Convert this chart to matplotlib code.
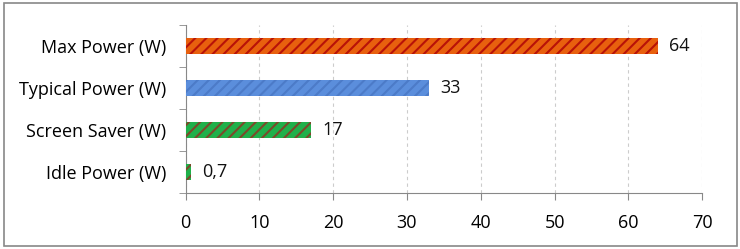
import matplotlib
matplotlib.use("Agg")
import matplotlib.pyplot as plt
from matplotlib.patches import Rectangle

categories = ["Idle Power (W)", "Screen Saver (W)", "Typical Power (W)", "Max Power (W)"]
values = [0.7, 17, 33, 64]
labels = ["0,7", "17", "33", "64"]
face_colors = ["#1FB04A", "#1FB04A", "#5B8EDC", "#E8600E"]
hatch_colors = ["#7B4A2A", "#7B4A2A", "#4C7BC8", "#B81208"]
xticks = [0, 10, 20, 30, 40, 50, 60, 70]

plt.rcParams['font.family'] = ['Open Sans', 'DejaVu Sans']
plt.rcParams['hatch.linewidth'] = 1.5

fig = plt.figure(figsize=(7.4, 2.49), dpi=100)
ax = fig.add_axes([185.5/740, 1-193/249, (702.3-185.5)/740, (193-25)/249])

ypos = list(range(len(categories)))
for y, v, fc, hc in zip(ypos, values, face_colors, hatch_colors):
    ax.barh(y, v, height=0.4, color=fc, edgecolor=hc, linewidth=0, hatch='///', zorder=3)
for y, v, lab in zip(ypos, values, labels):
    ax.annotate(lab, xy=(v, y), xytext=(8, 0), textcoords='offset points',
                va='center', ha='left', fontsize=13, color='#111111')

ax.set_xlim(0, 70)
ax.set_ylim(-0.5, len(categories) - 0.5)
ax.set_xticks(xticks)
ax.set_xticklabels([str(t) for t in xticks], fontsize=13)
ax.set_yticks(ypos)
ax.set_yticklabels(categories, fontsize=13)
ax.set_yticks([i - 0.5 for i in range(len(categories) + 1)], minor=True)
ax.tick_params(axis='y', which='major', length=0, pad=14)
ax.tick_params(axis='y', which='minor', length=5, color='#888888', direction='out')
ax.tick_params(axis='x', length=5, color='#888888', direction='out', pad=10)
ax.grid(axis='x', linestyle=(0, (3, 3)), color='#cccccc', linewidth=0.8, zorder=0)
for s in ['top', 'right']:
    ax.spines[s].set_visible(False)
for s in ['left', 'bottom']:
    ax.spines[s].set_color('#888888')

fig.patches.append(Rectangle((4/740, 3/249), (737-4)/740, (246-3)/249, transform=fig.transFigure,
                             fill=False, edgecolor='#888888', linewidth=1.2))

fig.savefig("out.png", dpi=100)
